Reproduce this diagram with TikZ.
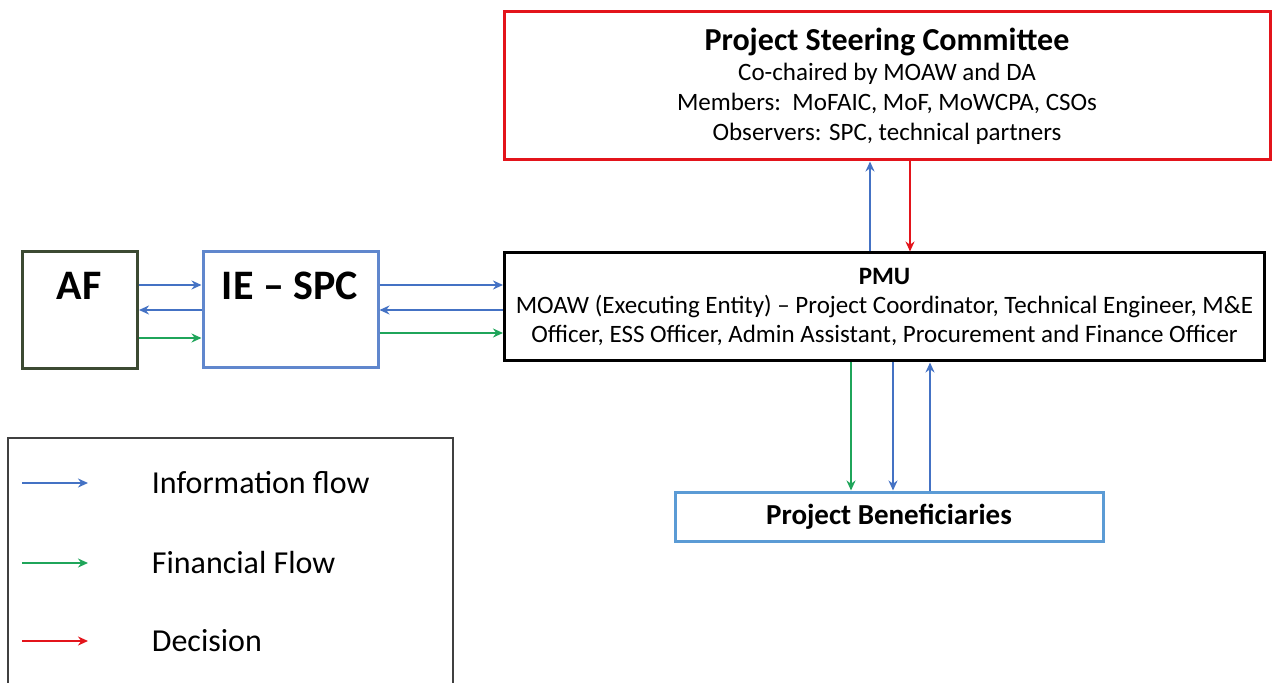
\documentclass[tikz,border=0pt]{standalone}
\usepackage{fontspec}
\setmainfont{Carlito}
\usetikzlibrary{arrows.meta}
\definecolor{infoblue}{HTML}{4472C4}
\definecolor{finegreen}{HTML}{1FA55A}
\definecolor{decired}{HTML}{E3141B}
\definecolor{afgreen}{HTML}{3C4A32}
\definecolor{pbblue}{HTML}{5B9BD5}
\tikzset{
  box/.style={draw, line width=1.5pt, inner sep=0pt, align=center},
  info/.style={infoblue, line width=1.2pt, -{Stealth[length=5pt,width=4.5pt]}},
  fin/.style={finegreen, line width=1.2pt, -{Stealth[length=5pt,width=4.5pt]}},
  deci/.style={decired, line width=1.2pt, -{Stealth[length=5pt,width=4.5pt]}}
}
\begin{document}
\begin{tikzpicture}[x=0.5pt,y=-0.5pt]
          \useasboundingbox (0,0) rectangle (1272,683);
          \node [box, draw=decired, minimum width=383pt, minimum height=74pt,
            font=\fontsize{12.5}{15}\selectfont] (psc) at (887,86)
            {{\fontsize{16}{19}\selectfont\bfseries Project Steering Committee}\\
             Co-chaired by MOAW and DA\\
             Members:\ \ MoFAIC, MoF, MoWCPA, CSOs\\
             Observers: SPC, technical partners};
          \node [box, draw=black, minimum width=380pt, minimum height=54pt,
            font=\fontsize{12.5}{14.5}\selectfont] (pmu) at (884.5,307)
            {{\bfseries PMU}\\
             MOAW (Executing Entity) -- Project Coordinator, Technical Engineer, M\&E\\
             Officer, ESS Officer, Admin Assistant, Procurement and Finance Officer};
          \node [box, draw=afgreen, minimum width=57.5pt, minimum height=58.5pt] (af) at (80,310) {};
          \node [font=\fontsize{21}{24}\selectfont\bfseries] (aflabel) at (79,286) {AF};
          \node [box, draw=infoblue!85, minimum width=87.5pt, minimum height=58pt] (iespc) at (290.5,310) {};
          \node [font=\fontsize{21}{24}\selectfont\bfseries] (iespclabel) at (290,286) {IE -- SPC};
          \node [box, draw=pbblue, minimum width=214pt, minimum height=24.5pt,
            font=\fontsize{14.5}{17}\selectfont\bfseries] (pb) at (889,516.5) {Project Beneficiaries};
          \draw [info] (af.east |- 0,285) -- (iespc.west |- 0,285);
          \draw [info] (iespc.west |- 0,310) -- (af.east |- 0,310);
          \draw [fin] (af.east |- 0,338) -- (iespc.west |- 0,338);
          \draw [info] (iespc.east |- 0,285) -- (pmu.west |- 0,285);
          \draw [info] (pmu.west |- 0,310) -- (iespc.east |- 0,310);
          \draw [fin] (iespc.east |- 0,333) -- (pmu.west |- 0,333);
          \draw [info] (pmu.north -| 870,0) -- (psc.south -| 870,0);
          \draw [deci] (psc.south -| 910,0) -- (pmu.north -| 910,0);
          \draw [fin] (pmu.south -| 851,0) -- (pb.north -| 851,0);
          \draw [info] (pmu.south -| 893,0) -- (pb.north -| 893,0);
          \draw [info] (pb.north -| 930,0) -- (pmu.south -| 930,0);
          \draw [line width=0.8pt, black!75] (8,690) -- (8,438) -- (453,438) -- (453,690);
          \coordinate (l1) at (22,483);
          \coordinate (l2) at (22,563);
          \coordinate (l3) at (22,641);
          \draw [info] (l1) -- +(66,0) node [black, right=28pt, font=\fontsize{16}{19}\selectfont] (linfo) {Information flow};
          \draw [fin] (l2) -- +(66,0) node [black, right=28pt, font=\fontsize{16}{19}\selectfont] (lfin) {Financial Flow};
          \draw [deci] (l3) -- +(66,0) node [black, right=28pt, font=\fontsize{16}{19}\selectfont] (ldeci) {Decision};
        \end{tikzpicture}
\end{document}
